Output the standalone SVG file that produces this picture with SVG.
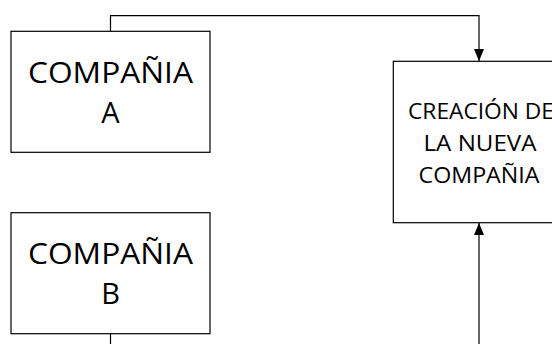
<svg xmlns="http://www.w3.org/2000/svg" width="552" height="344" viewBox="0 0 552 344">
<style>
.box{fill:#fff;stroke:#000;stroke-width:1.2}
.big{font-family:"Open Sans","Liberation Sans",sans-serif;font-size:29px;fill:#000;text-anchor:middle}
.mid{font-family:"Open Sans","Liberation Sans",sans-serif;font-size:21.5px;fill:#000;text-anchor:middle}
.ln{fill:none;stroke:#000;stroke-width:1.2}
</style>
<defs>
<marker id="arr" viewBox="0 0 12 10" refX="12" refY="5" markerWidth="12" markerHeight="10" markerUnits="userSpaceOnUse" orient="auto">
<path d="M0,0 L12,5 L0,10 Z" fill="#000"/>
</marker>
</defs>
<rect width="552" height="344" fill="#fff"/>
<g id="connectors">
<path class="ln" d="M110.5,31 V15.7 H479 V61" marker-end="url(#arr)"/>
<path class="ln" d="M110.5,334 V344"/>
<path class="ln" d="M479,344 V223" marker-end="url(#arr)"/>
</g>
<g id="companiaA">
<rect class="box" x="11" y="31.3" width="199" height="121"/>
<text class="big" x="110.5" y="82.7" textLength="165" lengthAdjust="spacingAndGlyphs">COMPAÑIA</text>
<text class="big" x="110.5" y="122.7">A</text>
</g>
<g id="companiaB">
<rect class="box" x="11" y="212.7" width="199" height="121"/>
<text class="big" x="110.5" y="264" textLength="165" lengthAdjust="spacingAndGlyphs">COMPAÑIA</text>
<text class="big" x="110.5" y="304">B</text>
</g>
<g id="nueva">
<rect class="box" x="393.3" y="61.3" width="173" height="161.4"/>
<text class="mid" x="481" y="119" textLength="146" lengthAdjust="spacingAndGlyphs">CREACIÓN DE</text>
<text class="mid" x="480" y="151" textLength="113" lengthAdjust="spacingAndGlyphs">LA NUEVA</text>
<text class="mid" x="479" y="183" textLength="121" lengthAdjust="spacingAndGlyphs">COMPAÑIA</text>
</g>
</svg>
